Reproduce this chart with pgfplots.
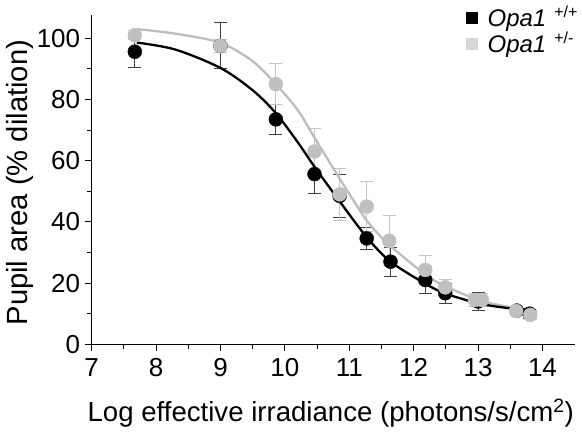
\documentclass[border=0pt]{standalone}
\usepackage{pgfplots}
\pgfplotsset{compat=1.18}
\usepackage{fontspec}
\setmainfont{Liberation Sans}
\definecolor{ptgray}{HTML}{C0C0C0}
\definecolor{lngray}{HTML}{BDBDBD}
\definecolor{ebgray}{HTML}{C4C4C4}
\definecolor{ebdark}{HTML}{404040}
\definecolor{leggray}{HTML}{D6D6D6}
\newcommand{\legtext}[1]{\fontsize{24}{27}\selectfont\textit{Opa1}\hspace{8pt}\raisebox{9pt}{\fontsize{16}{16}\selectfont #1}}
\begin{document}
\begin{tikzpicture}
\path[use as bounding box] (0,0) rectangle (582pt,435pt);
\begin{axis}[
  at={(91.7pt,90.7pt)}, anchor=south west,
  scale only axis, width=483pt, height=329.3pt,
  xmin=7, xmax=14.5, ymin=0, ymax=107.6,
  clip=false,
  axis lines=left,
  axis line style={line width=1.1pt, -},
  xtick={7,8,...,14}, ytick={0,20,...,100},
  minor x tick num=1, minor y tick num=1,
  tick align=outside,
  major tick length=7pt, minor tick length=4.5pt,
  every tick/.style={line width=1.1pt, black},
  /pgf/number format/assume math mode=true,
  ticklabel style={font=\fontsize{26}{30}\selectfont},
  xticklabel style={yshift=-4pt},
  yticklabel style={xshift=-1pt},
  xlabel={Log effective irradiance (photons/s/cm\textsuperscript{2})},
  ylabel={Pupil area (\% dilation)},
  xlabel style={font=\fontsize{27.6}{30}\selectfont,
    at={(axis description cs:0.495,-0.235)}, anchor=base},
  ylabel style={font=\fontsize{29.2}{32}\selectfont,
    at={(axis description cs:-0.1484,0.491)}, anchor=center},
  legend style={at={(axis description cs:0.7687,1.0395)}, anchor=north west, draw=none, fill=none,
    row sep=0pt, column sep=8pt},
  legend cell align=left,
]
% black data
\addplot[forget plot, only marks, mark=*, mark size=7pt, black,
  error bars/.cd, y dir=both, y explicit,
  error bar style={line width=1pt, ebdark},
  error mark options={rotate=90, mark size=6.5pt, line width=1pt, ebdark}]
  table[x=x, y=y, y error=e] {
x y e
7.67 95.6 5.2
9.00 97.5 7.5
9.86 73.5 5.0
10.46 55.6 6.3
10.85 48.5 7.0
11.27 34.6 3.5
11.64 27.0 4.7
12.18 21.0 4.5
12.49 16.7 3.3
13.00 14.0 2.8
13.60 11.0 1.5
13.80 10.0 1.5
};
% gray data
\addplot[forget plot, only marks, mark=*, mark size=7pt, ptgray,
  error bars/.cd, y dir=both, y explicit,
  error bar style={line width=1pt, ebgray},
  error mark options={rotate=90, mark size=6.5pt, line width=1pt, ebgray}]
  table[x=x, y=y, y error=e] {
x y e
7.67 101.0 1.5
9.00 97.5 2.0
9.86 85.0 6.8
10.46 63.0 7.6
10.85 49.0 8.5
11.27 45.0 8.2
11.62 33.8 8.2
12.18 24.3 4.7
12.49 18.6 2.7
12.95 14.5 2.0
13.06 14.5 2.0
13.59 10.9 1.5
13.81 9.6 1.5
};
% gray fit
\addplot[forget plot, lngray, line width=2.3pt, smooth] coordinates {
(7.7,103) (8.3,101.5) (9,98.5) (9.5,92.5) (9.86,85) (10.2,76.5) (10.46,67.5)
(10.84,54.5) (11.27,40.5) (11.62,32.5) (12.18,22.8) (12.49,19) (13,14.5)
(13.4,12.5) (13.8,11)
};
% black fit
\addplot[forget plot, black, line width=2.3pt, smooth] coordinates {
(7.7,98.6) (8.3,96.3) (9,90.3) (9.5,83) (9.86,75.5) (10.2,66) (10.46,58)
(10.84,47) (11.27,35) (11.64,27) (12.18,19.8) (12.49,16.6) (13,13.4)
(13.4,12) (13.8,11.2)
};
\addlegendimage{legend image code/.code={\fill[black] (0pt,-5.5pt) rectangle (11pt,5.5pt);}}
\addlegendentry{\legtext{+/+}}
\addlegendimage{legend image code/.code={\fill[leggray] (0pt,-5.5pt) rectangle (11pt,5.5pt);}}
\addlegendentry{\legtext{+/-}}
\end{axis}
\end{tikzpicture}
\end{document}
